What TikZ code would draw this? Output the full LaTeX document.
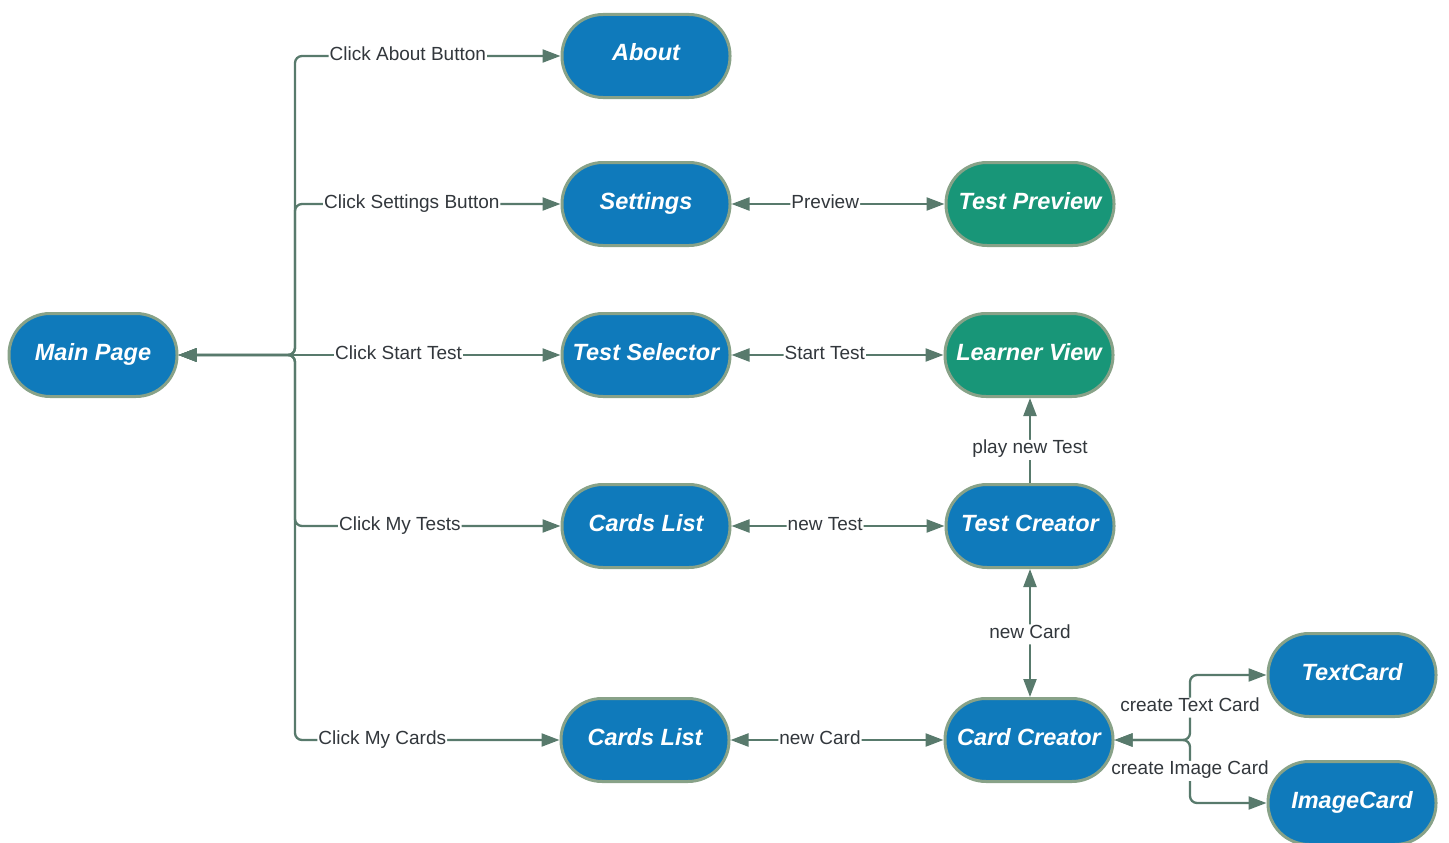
\documentclass[tikz,border=0pt]{standalone}
\usepackage{fontspec}
\setmainfont{Liberation Sans}
\usetikzlibrary{arrows.meta}
\definecolor{pageblue}{RGB}{15,122,187}
\definecolor{pagegreen}{RGB}{24,150,120}
\definecolor{pageedge}{RGB}{136,162,136}
\definecolor{linkcol}{RGB}{88,122,108}
\definecolor{lblcol}{RGB}{50,55,60}
\tikzset{
  screen/.style={draw=pageedge, line width=3pt, fill=pageblue, rounded corners=41pt,
    minimum width=168pt, minimum height=83pt, inner sep=0pt, text=white,
    text height=17pt, text depth=7pt,
    font=\fontsize{23.5}{27}\selectfont\bfseries\itshape},
  gscreen/.style={screen, fill=pagegreen},
  link/.style={draw=linkcol, line width=2.3pt, rounded corners=7pt,
    arrows={Triangle[length=18pt,width=13pt]-Triangle[length=18pt,width=13pt]}},
  uplink/.style={link, arrows={-Triangle[length=18pt,width=13pt]}},
  lbl/.style={fill=white, text=lblcol, inner sep=1pt,
    text height=13pt, text depth=5pt,
    font=\fontsize{19}{22}\selectfont}
}
\begin{document}
\begin{tikzpicture}[x=1pt, y=-1pt]
\useasboundingbox (0,0) rectangle (1449,843);

% screens
\node[screen]  (main)  at (93,355)   {Main Page};
\node[screen]  (about) at (646,56)   {About};
\node[screen]  (sett)  at (646,204)  {Settings};
\node[screen]  (tsel)  at (646,355)  {Test Selector};
\node[screen]  (clist) at (646,526)  {Cards List};
\node[screen]  (clist2) at (645,740) {Cards List};
\node[gscreen] (tprev) at (1030,204) {Test Preview};
\node[gscreen] (learn) at (1029,355) {Learner View};
\node[screen]  (tcre)  at (1030,526) {Test Creator};
\node[screen]  (ccre)  at (1029,740) {Card Creator};
\node[screen]  (tcard) at (1352,675) {TextCard};
\node[screen]  (icard) at (1352,803) {ImageCard};

% main menu branches
\coordinate (hub) at (295,355);
\draw[link] (main.east) -- (hub) -- (295,56) -- node[lbl,pos=.425]{Click About Button} (about.west);
\draw[link] (main.east) -- (hub) -- (295,204) -- node[lbl,pos=.44]{Click Settings Button} (sett.west);
\draw[link] (main.east) -- (hub) -- node[lbl,pos=.39]{Click Start Test} (tsel.west);
\draw[link] (main.east) -- (hub) -- (295,526) -- node[lbl,pos=.395]{Click My Tests} (clist.west);
\draw[link] (main.east) -- (hub) -- (295,740) -- node[lbl,pos=.33]{Click My Cards} (clist2.west);

% horizontal links
\draw[link] (sett.east) -- node[lbl,pos=.44]{Preview} (tprev.west);
\draw[link] (tsel.east) -- node[lbl,pos=.44]{Start Test} (learn.west);
\draw[link] (clist.east) -- node[lbl,pos=.44]{new Test} (tcre.west);
\draw[link] (clist2.east) -- node[lbl,pos=.42]{new Card} (ccre.west);

% vertical links
\draw[uplink] (tcre.north) -- node[lbl,pos=.39]{play new Test} (tcre.north |- learn.south);
\draw[link] (tcre.south) -- node[lbl,pos=.51]{new Card} (tcre.south |- ccre.north);

% card type branches
\coordinate (cfork) at (1190,740);
\draw[link] (ccre.east) -- (cfork) -- node[lbl,pos=.50]{create Text Card} (1190,675) -- (tcard.west);
\draw[link] (ccre.east) -- (cfork) -- node[lbl,pos=.49]{create Image Card} (1190,803) -- (icard.west);
\end{tikzpicture}
\end{document}
